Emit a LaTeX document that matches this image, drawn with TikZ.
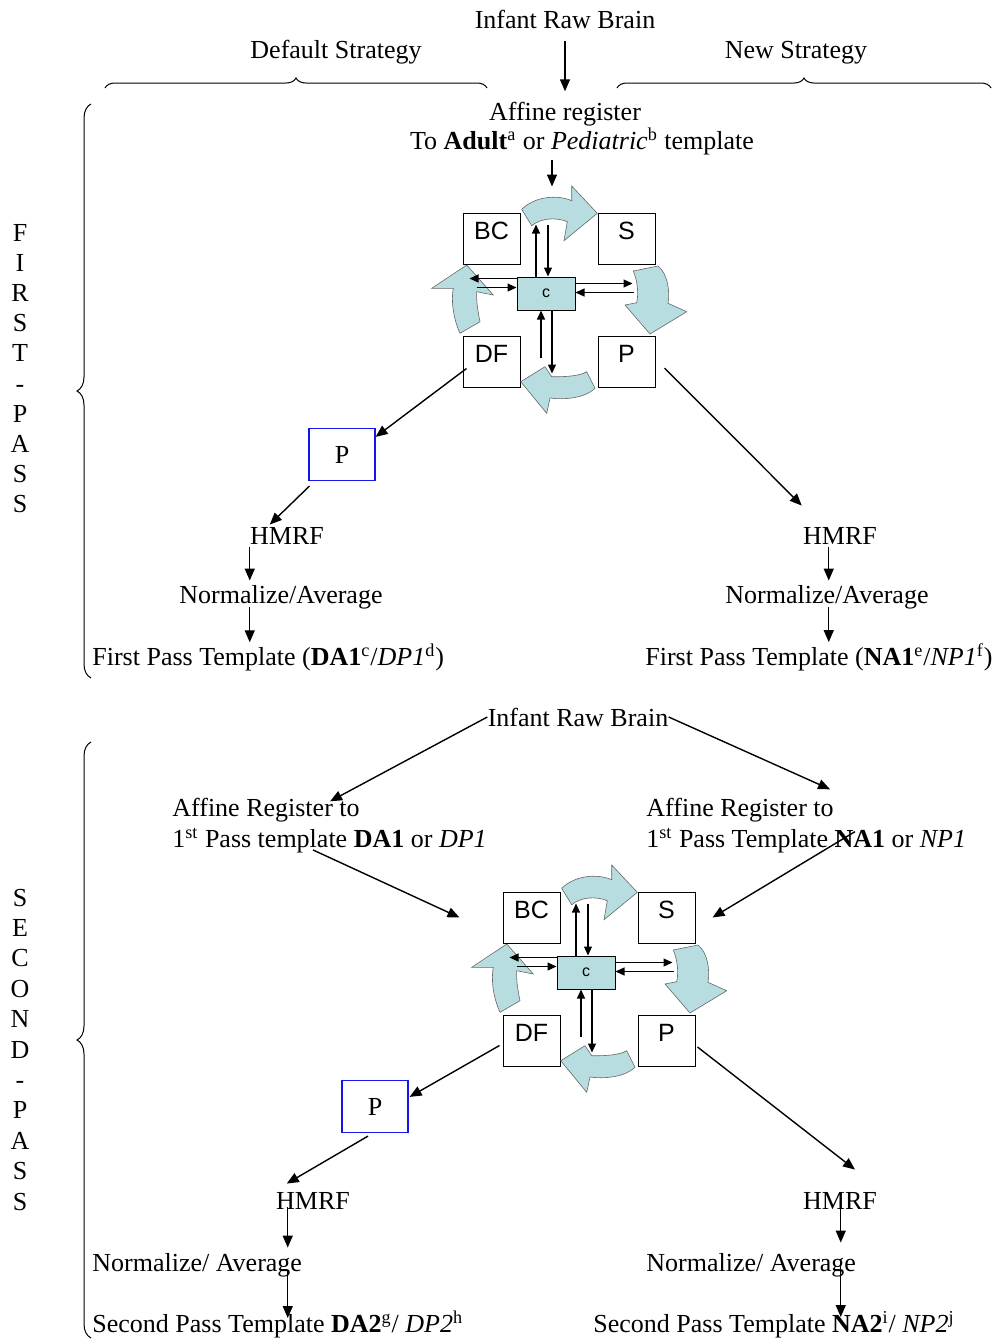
\documentclass[tikz,border=0pt]{standalone}
\usepackage{fontspec}
\setmainfont{Liberation Serif}
\newfontfamily\arialf{Liberation Sans}
\usetikzlibrary{arrows.meta,decorations.pathreplacing,calc}
\definecolor{tealb}{RGB}{183,221,224}
\definecolor{pblue}{RGB}{20,20,235}

\newcommand\mycyc[3]{%
  \node[box] (#1BC) at ({#2+491.5},{#3+238.5}) {BC};
  \node[box] (#1S)  at ({#2+626.5},{#3+238.5}) {S};
  \node[box] (#1DF) at ({#2+491.5},{#3+361.5}) {DF};
  \node[box] (#1P)  at ({#2+626.5},{#3+361.5}) {P};
  \node[cbox] (#1c) at ({#2+546},{#3+293.5}) {c};
  \begin{scope}[shift={(#2,#3)}]
    \path[bent] (521.7,209.3) .. controls (534,197) and (556,194) .. (571.7,200.7)
      -- (571.7,186) -- (597.3,213.3) -- (564,240.7) -- (567.3,221.7)
      .. controls (556,217) and (541,218) .. (531.7,225.7) -- cycle;
    \path[bent] (658,266) .. controls (668,274) and (670,292) .. (668,303.3)
      -- (686.7,311.7) -- (650,334) -- (625,305) -- (636.7,302.7)
      .. controls (639,292) and (637,280) .. (633.3,271) -- cycle;
    \path[bent] (595,388.3) .. controls (585,398) and (565,400) .. (550,398)
      -- (546.7,413.3) -- (520.7,381.7) -- (545,366.7) -- (551.7,376.7)
      .. controls (565,377) and (580,376) .. (586.7,371.7) -- cycle;
    \path[bent] (460,333.3) .. controls (453,318) and (451,300) .. (453.3,288.3)
      -- (431.7,288.3) -- (466.7,265) -- (493.3,295) -- (476.7,291.7)
      .. controls (476,300) and (478,312) .. (480,321.7) -- cycle;
  \end{scope}
  \draw[carr] ($(#1c.north)+(-10,0)$) -- ($(#1c.north)+(-10,-52)$);
  \draw[carr] ($(#1c.north)+(2,-52)$) -- ($(#1c.north)+(2,0)$);
  \draw[carr] ($(#1c.west)+(0,-15)$) -- ($(#1c.west)+(-47,-15)$);
  \draw[carr] ($(#1c.west)+(-40,-6)$) -- ($(#1c.west)+(0,-6)$);
  \draw[carr] ($(#1c.east)+(0,-10)$) -- ($(#1c.east)+(57,-10)$);
  \draw[carr] ($(#1c.east)+(58,-1)$) -- ($(#1c.east)+(0,-1)$);
  \draw[carr] ($(#1c.south)+(-5,47)$) -- ($(#1c.south)+(-5,0)$);
  \draw[carr] ($(#1c.south)+(6,0)$) -- ($(#1c.south)+(6,63)$);
}

\begin{document}
\begin{tikzpicture}[x=0.5pt,y=-0.5pt,
  txt/.style={font=\fontsize{13}{15}\selectfont, inner sep=0pt},
  arr/.style={line width=0.7pt, -{Triangle[length=6pt,width=5pt]}},
  carr/.style={line width=0.6pt, -{Triangle[length=4.5pt,width=4pt]}},
  box/.style={draw, line width=0.5pt, fill=white, minimum width=28.5pt, minimum height=25.5pt,
    inner sep=0pt, font=\arialf\fontsize{12.5}{14}\selectfont, text height=9pt, text depth=8pt},
  cbox/.style={draw, line width=0.5pt, fill=tealb, minimum width=29pt, minimum height=16.5pt,
    inner sep=0pt, font=\arialf\fontsize{8}{9}\selectfont},
  pbox/.style={draw=pblue, line width=0.6pt, minimum width=33pt, minimum height=26pt,
    inner sep=0pt, font=\fontsize{13}{15}\selectfont},
  bent/.style={fill=tealb, draw=black!60, line width=0.3pt},
  brc/.style={decorate, line width=0.5pt},
]
\useasboundingbox (0,0) rectangle (998,1341);

% ---------- headings ----------
\node[txt,anchor=base] (ib1) at (565,28) {Infant Raw Brain};
\node[txt,anchor=base] (ds) at (336,58) {Default Strategy};
\node[txt,anchor=base] (ns) at (796,58) {New Strategy};
\draw[brc, decoration={brace,amplitude=5pt}] (105,88) -- (487,88);
\draw[brc, decoration={brace,amplitude=5pt}] (617,88) -- (991,88);
\node[txt,anchor=base] (af1) at (565,120) {Affine register};
\node[txt,anchor=base] (af2) at (582,149) {To \textbf{Adult}\textsuperscript{a} or \textit{Pediatric}\textsuperscript{b} template};
\draw[arr] ($(ib1.south)+(0,12)$) -- ($(af1.north)+(0,-10)$);

% ---------- side labels ----------
\draw[brc, decoration={brace,amplitude=7pt}] (91,678) -- (91,104);
\draw[brc, decoration={brace,amplitude=7pt}] (91,1338) -- (91,742);
\foreach \ch [count=\i] in {F,I,R,S,T,-,P,A,S,S}
  \node[txt,anchor=base] (fpl\i) at (20,{241+30.2*(\i-1)}) {\ch};
\foreach \ch [count=\i] in {S,E,C,O,N,D,-,P,A,S,S}
  \node[txt,anchor=base] (spl\i) at (20,{906+30.4*(\i-1)}) {\ch};

% ---------- first pass ----------
\mycyc{A}{0}{0}
\draw[arr] ($(af2.south)+(-30,5)$) -- ($(Ac.north)+(6,-90)$);

\node[pbox] (bp1) at (342,454.5) {P};
\node[txt,anchor=base] (h1) at (287,544) {HMRF};
\node[txt,anchor=base] (n1) at (281,603) {Normalize/Average};
\node[txt,anchor=base west] (f1) at (92,665) {First Pass Template (\textbf{DA1}\textsuperscript{c}/\textit{DP1}\textsuperscript{d})};
\node[txt,anchor=base] (h2) at (840,544) {HMRF};
\node[txt,anchor=base] (n2) at (827,603) {Normalize/Average};
\node[txt,anchor=base east] (f2) at (993,665) {First Pass Template (\textbf{NA1}\textsuperscript{e}/\textit{NP1}\textsuperscript{f})};

\draw[arr] ($(ADF.west)+(4,7)$) -- ($(bp1.north east)+(0,9)$);
\draw[arr] ($(bp1.south west)+(1,5)$) -- ($(h1.north west)+(20,-2)$);
\draw[arr] ($(AP.east)+(9,6.5)$) -- ($(h2.north west)+(-1,-21)$);
\draw[arr] ($(h1.south west)+(0,3)$) -- ($(h1.south west |- n1.north)+(0,-4)$);
\draw[arr] ($(h1.south west |- n1.south)+(0,-2)$) -- ($(h1.south west |- f1.north)+(0,-1)$);
\draw[arr] ($(h2.south west)+(26,3)$) -- ($(h2.south west |- n2.north)+(26,-4)$);
\draw[arr] ($(h2.south west |- n2.south)+(26,-2)$) -- ($(h2.south west |- f2.north)+(26,-1)$);

% ---------- second pass ----------
\node[txt,anchor=base] (ib2) at (578,726) {Infant Raw Brain};
\node[txt,anchor=base west] (ar1) at (172,816) {Affine Register to};
\node[txt,anchor=base west] (ar2) at (172,847) {1\textsuperscript{st} Pass template \textbf{DA1} or \textit{DP1}};
\node[txt,anchor=base west] (ar3) at (646,816) {Affine Register to};
\node[txt,anchor=base west] (ar4) at (646,847) {1\textsuperscript{st} Pass Template \textbf{NA1} or \textit{NP1}};
\draw[arr] (ib2.west) -- ($(ar1.north east)+(-30,4)$);
\draw[arr] (ib2.east) -- ($(ar3.north east)+(-4,-8)$);

\mycyc{B}{40}{679}
\draw[arr] ($(ar2.south west)+(141,-3)$) -- ($(BBC.west)+(-43,0)$);
\draw[arr] ($(ar4.north west)+(209,4)$) -- ($(BS.east)+(17,0)$);

\node[pbox] (bp2) at (375,1106.5) {P};
\node[txt,anchor=base] (h3) at (313,1209) {HMRF};
\node[txt,anchor=base west] (n3) at (92,1271) {Normalize/ Average};
\node[txt,anchor=base west] (s1) at (92,1332) {Second Pass Template \textbf{DA2}\textsuperscript{g}/ \textit{DP2}\textsuperscript{h}};
\node[txt,anchor=base] (h4) at (840,1209) {HMRF};
\node[txt,anchor=base west] (n4) at (646,1271) {Normalize/ Average};
\node[txt,anchor=base west] (s2) at (593,1332) {Second Pass Template \textbf{NA2}\textsuperscript{i}/ \textit{NP2}\textsuperscript{j}};

\draw[arr] ($(BDF.west)+(-3,5)$) -- ($(bp2.north east)+(1,17)$);
\draw[arr] ($(bp2.south)+(-7,3)$) -- ($(h3.north west)+(11,-8)$);
\draw[arr] ($(BP.east)+(2,6.5)$) -- ($(h4.north)+(15,-22)$);
\draw[arr] ($(h3.south west)+(12,-2)$) -- ($(h3.south west |- n3.north)+(12,-5)$);
\draw[arr] ($(h3.south west |- n3.south)+(12,-6)$) -- ($(h3.south west |- s1.base)+(12,-14)$);
\draw[arr] ($(h4.south west)+(38,-17)$) -- ($(h4.south west |- n4.north)+(38,-10)$);
\draw[arr] ($(h4.south west |- n4.base)+(38,-9)$) -- ($(h4.south west |- s2.base)+(38,-15)$);
\end{tikzpicture}
\end{document}
